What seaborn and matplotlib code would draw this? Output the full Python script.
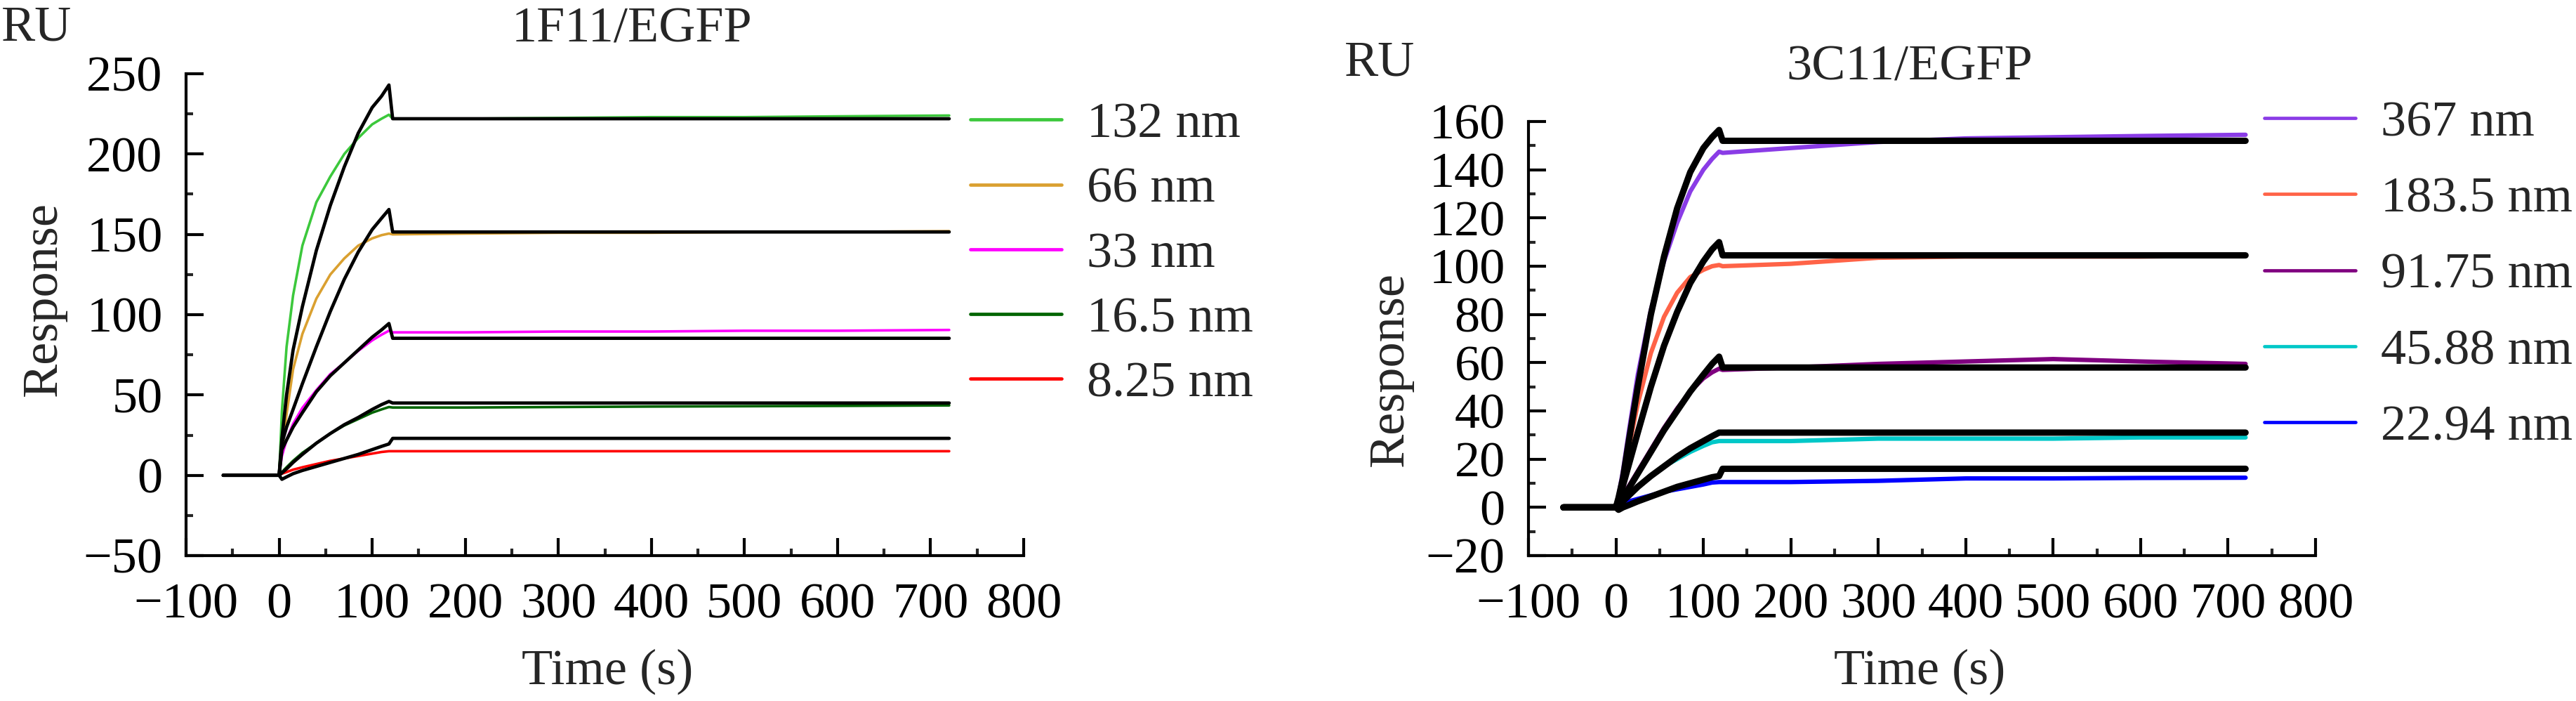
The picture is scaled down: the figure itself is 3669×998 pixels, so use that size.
import numpy as np
import pandas as pd
import matplotlib
matplotlib.use('Agg')
import matplotlib.pyplot as plt
import seaborn as sns
from matplotlib.lines import Line2D
from matplotlib.ticker import MultipleLocator

sns.set_style('white')
plt.rcParams['font.family'] = ['Liberation Serif', 'DejaVu Serif']

# shared time grid (s): baseline, association up to ~118 s, then dissociation
time = [-60, 0, 3, 8, 15, 25, 40, 55, 70, 85, 100, 110, 118,
        122, 200, 300, 400, 500, 600, 720]

# ---- 1F11/EGFP ----
left_conc = ['132 nm', '66 nm', '33 nm', '16.5 nm', '8.25 nm']
left_colors = ['#3CC83C', '#DAA030', '#FF00FF', '#006400', '#FF0000']
left_resp = [
    [0, 0, 40, 80, 112, 143, 170, 186, 200, 210, 218.5, 222, 224.5, 222, 222, 222.5, 223, 223, 223.5, 224],
    [0, 0, 15, 38, 66, 88, 110, 125, 135, 143, 147.5, 149.5, 150.5, 150, 150.5, 151, 151, 151.5, 151.5, 152],
    [0, 0, 12, 22, 32, 42, 53, 63, 70, 77.5, 84, 87.5, 90, 89, 89, 89.5, 89.5, 90, 90, 90.5],
    [0, 0, 2, 5, 9, 14, 20, 26, 31, 35, 39, 41, 42.5, 42.2, 42.2, 42.5, 42.8, 43, 43.2, 43.5],
    [0, 0, 1, 2, 3.5, 5, 7, 9, 10.5, 12, 13.5, 14.5, 15, 15, 15, 15, 15, 15, 15, 15],
]
left_fit = [
    [0, 0, 23, 50, 78, 105, 140, 168, 192, 213, 229, 236, 243, 222, 222, 222, 222, 222, 222, 222],
    [0, 0, 20, 30, 41, 57, 80, 102, 122, 139, 153, 160, 165.5, 151.5, 151.5, 151.5, 151.5, 151.5, 151.5, 151.5],
    [0, 0, 16, 22, 30, 39, 52, 62, 70, 78, 86, 90.5, 94.5, 85.3, 85.3, 85.3, 85.3, 85.3, 85.3, 85.3],
    [0, 0, 1.5, 4, 8, 13, 20, 26, 31.5, 36, 41, 44, 46, 45, 45, 45, 45, 45, 45, 45],
    [0, 0, -2.5, -1, 1, 3, 5.5, 8, 10.5, 13, 16, 18, 19.5, 23, 23, 23, 23, 23, 23, 23],
]

# ---- 3C11/EGFP ----
right_conc = ['367 nm', '183.5 nm', '91.75 nm', '45.88 nm', '22.94 nm']
right_colors = ['#8A3CE6', '#FF6347', '#800080', '#00C8C8', '#0000FF']
right_resp = [
    [0, 0, 5, 15, 32, 55, 82, 102, 118, 131, 140, 144.5, 147.5, 147, 149, 151.5, 153, 153.5, 154, 154.5],
    [0, 0, 4, 12, 25, 43, 64, 79, 89, 95.5, 98.5, 100, 100.5, 100, 101, 103.5, 104, 104, 104, 104.5],
    [0, 0, 1.5, 5, 9, 15, 24, 33, 41, 48, 53.5, 56, 57.5, 57, 58, 59.5, 60.5, 61.5, 60.5, 59.5],
    [0, 0, 1, 3, 5.5, 8.5, 13, 17, 20, 23, 25.5, 27, 27.5, 27.5, 27.5, 28.5, 28.5, 28.5, 29, 29],
    [0, 0, 0.5, 1.5, 2.5, 3.5, 5, 6.5, 7.5, 8.5, 9.5, 10.3, 10.5, 10.5, 10.5, 11, 12, 12, 12.2, 12.3],
]
right_fit = [
    [0, 0, 4, 12, 28, 50, 80, 104, 124, 139, 149, 153.5, 156.5, 152, 152, 152, 152, 152, 152, 152],
    [0, 0, 3, 9, 18, 31, 50, 67, 81, 93, 102, 107, 110, 104.5, 104.5, 104.5, 104.5, 104.5, 104.5, 104.5],
    [0, 0, 1, 4, 8, 14, 23, 32, 40, 48, 55, 59.5, 62.5, 58, 58, 58, 58, 58, 58, 58],
    [0, 0, 0.5, 2.5, 5, 8.5, 13, 17, 21, 24.5, 27.5, 29.5, 31, 31, 31, 31, 31, 31, 31, 31],
    [0, 0, -1, 0, 1, 2.5, 4.5, 6.5, 8.5, 10, 11.5, 12.5, 13, 16, 16, 16, 16, 16, 16, 16],
]


def to_long(labels, curves):
    rows = []
    for lab, ys in zip(labels, curves):
        for t, y in zip(time, ys):
            rows.append((lab, t, y))
    return pd.DataFrame(rows, columns=['conc', 'time', 'resp'])


W, H = 3669, 998
FS = 52
fig = plt.figure(figsize=(W / 100, H / 100), dpi=100)

panels = [
    dict(rect=[265, 105, 1458, 791], ylim=(-50, 250), ymaj=50, ymin=25,
         conc=left_conc, colors=left_colors, resp=left_resp, fit=left_fit,
         lw=2.6, fit_lw=3.4, legend_xy=(1382, 145), spacing=0.37,
         title='1F11/EGFP', title_xy=(900, 42), ru=(2, 40, 'left', 'center'),
         ylab_xy=(62, 425), xlab_xy=(865, 956)),
    dict(rect=[2177, 173, 3298, 791], ylim=(-20, 160), ymaj=20, ymin=10,
         conc=right_conc, colors=right_colors, resp=right_resp, fit=right_fit,
         lw=4.5, fit_lw=6.5, legend_xy=(3225, 143), spacing=0.59,
         title='3C11/EGFP', title_xy=(2720, 96), ru=(2015, 108, 'right', 'baseline'),
         ylab_xy=(1980, 525), xlab_xy=(2734, 956)),
]

for p in panels:
    x0, y0, x1, y1 = p['rect']
    ax = fig.add_axes([x0 / W, 1 - y1 / H, (x1 - x0) / W, (y1 - y0) / H])

    df_resp = to_long(p['conc'], p['resp'])
    df_fit = to_long(p['conc'], p['fit'])
    sns.lineplot(data=df_resp, x='time', y='resp', hue='conc', hue_order=p['conc'],
                 palette=dict(zip(p['conc'], p['colors'])), estimator=None, sort=False,
                 lw=p['lw'], legend=False, ax=ax)
    sns.lineplot(data=df_fit, x='time', y='resp', units='conc', estimator=None, sort=False,
                 color='black', lw=p['fit_lw'], legend=False, ax=ax)

    ax.set_xlim(-100, 800)
    ax.set_ylim(*p['ylim'])
    ax.xaxis.set_major_locator(MultipleLocator(100))
    ax.xaxis.set_minor_locator(MultipleLocator(50))
    ax.yaxis.set_major_locator(MultipleLocator(p['ymaj']))
    ax.yaxis.set_minor_locator(MultipleLocator(p['ymin']))
    ax.set_xlabel('')
    ax.set_ylabel('')
    for s in ['top', 'right']:
        ax.spines[s].set_visible(False)
    for s in ['left', 'bottom']:
        ax.spines[s].set_linewidth(3)
        ax.spines[s].set_color('black')
    ax.tick_params(which='major', direction='in', length=18, width=3, labelsize=FS,
                   left=True, bottom=True, colors='black')
    ax.tick_params(which='minor', direction='in', length=7, width=3, left=True, bottom=True)
    ax.tick_params(axis='x', which='major', pad=28)
    ax.tick_params(axis='y', which='major', pad=24)

    handles = [Line2D([], [], color=c, lw=3.4) for c in p['colors']]
    lx, ly = p['legend_xy']
    ax.legend(handles, p['conc'], loc='upper left', bbox_to_anchor=(lx / W, 1 - ly / H),
              bbox_transform=fig.transFigure, frameon=False, fontsize=FS,
              handlelength=1.8, handletextpad=0.5, labelspacing=p['spacing'],
              borderpad=0, borderaxespad=0)

    tx, ty = p['title_xy']
    fig.text(tx / W, 1 - ty / H, p['title'], ha='center', va='center', fontsize=FS)
    rx, ry, rha, rva = p['ru']
    fig.text(rx / W, 1 - ry / H, 'RU', ha=rha, va=rva, fontsize=FS)
    yx, yy = p['ylab_xy']
    fig.text(yx / W, 1 - yy / H, 'Response', ha='center', va='center', rotation=90, fontsize=FS)
    xx, xy = p['xlab_xy']
    fig.text(xx / W, 1 - xy / H, 'Time (s)', ha='center', va='center', fontsize=FS)

fig.savefig('out.png', dpi=100)
